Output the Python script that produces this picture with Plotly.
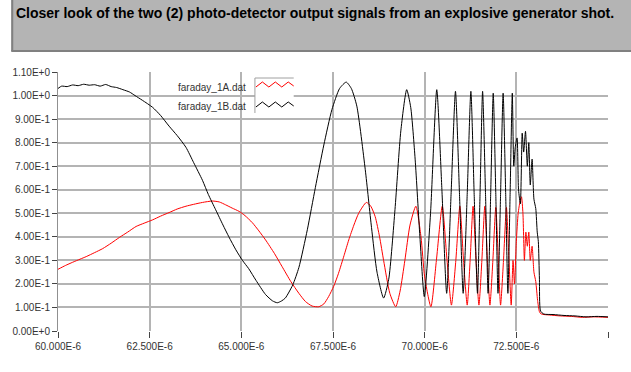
import plotly.graph_objects as go

# ---- data (time in microseconds, signal in volts-normalised) ----
t_1B = [60.00, 60.10, 60.25, 60.40, 60.55, 60.70, 60.85, 61.00, 61.15, 61.30, 61.45, 61.60,
        61.77, 61.95, 62.10, 62.30, 62.58, 62.80, 63.03, 63.25, 63.49, 63.70, 63.94, 64.10,
        64.30, 64.50, 64.66, 64.85, 65.03, 65.20, 65.40, 65.66, 65.85, 65.98, 66.10, 66.20,
        66.40, 66.57, 66.80, 67.02, 67.25, 67.47, 67.68, 67.86, 68.00, 68.15, 68.38, 68.55,
        68.70, 68.88, 69.02, 69.19, 69.35, 69.51, 69.62, 69.74, 69.87, 69.99, 70.16, 70.33,
        70.47, 70.60, 70.72, 70.84, 70.95, 71.05, 71.16, 71.26, 71.35, 71.44, 71.51, 71.58,
        71.66, 71.73, 71.80, 71.87, 71.94, 72.00, 72.07, 72.14, 72.21, 72.27, 72.33, 72.39,
        72.43, 72.47, 72.52, 72.56, 72.61, 72.66, 72.70, 72.75, 72.80, 72.84, 72.88, 72.93,
        72.98, 73.03, 73.07, 73.10, 73.13, 73.16, 73.25, 73.50, 73.80, 74.10, 74.40, 74.70, 75.00]
v_1B = [1.030, 1.040, 1.038, 1.045, 1.042, 1.048, 1.044, 1.046, 1.040, 1.047, 1.038, 1.034,
        1.025, 1.015, 1.000, 0.980, 0.950, 0.915, 0.870, 0.830, 0.780, 0.715, 0.640, 0.580,
        0.515, 0.450, 0.400, 0.345, 0.300, 0.265, 0.215, 0.155, 0.128, 0.120, 0.128, 0.140,
        0.195, 0.270, 0.430, 0.610, 0.790, 0.940, 1.030, 1.057, 1.030, 0.955, 0.685, 0.440,
        0.250, 0.140, 0.220, 0.515, 0.850, 1.025, 0.950, 0.730, 0.400, 0.146, 0.500, 1.025,
        0.600, 0.160, 0.580, 1.018, 0.580, 0.160, 0.580, 1.018, 0.580, 0.160, 0.580, 1.018,
        0.580, 0.160, 0.580, 1.010, 0.580, 0.160, 0.580, 1.010, 0.580, 0.160, 0.580, 1.010,
        0.700, 0.780, 0.820, 0.600, 0.540, 0.840, 0.760, 0.848, 0.700, 0.800, 0.620, 0.730,
        0.560, 0.520, 0.420, 0.380, 0.220, 0.085, 0.072, 0.070, 0.066, 0.064, 0.060, 0.062, 0.060]

t_1A = [60.00, 60.20, 60.40, 60.60, 60.77, 61.00, 61.22, 61.45, 61.68, 61.90, 62.13, 62.35,
        62.58, 62.80, 63.03, 63.25, 63.49, 63.70, 63.94, 64.21, 64.40, 64.57, 64.75, 64.94,
        65.10, 65.30, 65.48, 65.66, 65.90, 66.11, 66.35, 66.57, 66.75, 66.93, 67.11, 67.25,
        67.38, 67.52, 67.65, 67.80, 67.93, 68.07, 68.20, 68.41, 68.53, 68.65, 68.77, 68.88,
        69.05, 69.21, 69.33, 69.46, 69.60, 69.76, 69.90, 70.00, 70.17, 70.32, 70.48, 70.61,
        70.73, 70.85, 70.96, 71.06, 71.16, 71.24, 71.32, 71.40, 71.48, 71.56, 71.64, 71.71,
        71.78, 71.86, 71.94, 72.01, 72.07, 72.15, 72.23, 72.30, 72.36, 72.41, 72.45, 72.50,
        72.55, 72.60, 72.64, 72.68, 72.72, 72.76, 72.80, 72.84, 72.88, 72.93, 72.98, 73.03,
        73.08, 73.13, 73.18, 73.40, 73.70, 74.00, 74.30, 74.60, 75.00]
v_1A = [0.262, 0.278, 0.292, 0.305, 0.316, 0.333, 0.350, 0.373, 0.398, 0.420, 0.444, 0.458,
        0.472, 0.488, 0.503, 0.518, 0.530, 0.538, 0.546, 0.552, 0.548, 0.536, 0.522, 0.508,
        0.490, 0.460, 0.425, 0.387, 0.330, 0.274, 0.210, 0.160, 0.125, 0.106, 0.103, 0.115,
        0.146, 0.190, 0.245, 0.320, 0.387, 0.450, 0.500, 0.546, 0.530, 0.486, 0.400, 0.300,
        0.160, 0.103, 0.170, 0.300, 0.450, 0.530, 0.400, 0.230, 0.103, 0.300, 0.530, 0.300,
        0.110, 0.300, 0.530, 0.300, 0.110, 0.300, 0.530, 0.300, 0.110, 0.300, 0.530, 0.300,
        0.110, 0.300, 0.525, 0.300, 0.110, 0.300, 0.525, 0.300, 0.110, 0.300, 0.200, 0.380,
        0.500, 0.550, 0.570, 0.500, 0.300, 0.420, 0.360, 0.420, 0.300, 0.360, 0.250, 0.210,
        0.130, 0.082, 0.072, 0.068, 0.064, 0.062, 0.058, 0.060, 0.058]

x_tickvals_us = [60.0, 62.5, 65.0, 67.5, 70.0, 72.5, 75.0]
x_ticktext = ["60.000E-6", "62.500E-6", "65.000E-6", "67.500E-6", "70.000E-6", "72.500E-6", "75.000E-6"]
y_tickvals = [0.0, 0.1, 0.2, 0.3, 0.4, 0.5, 0.6, 0.7, 0.8, 0.9, 1.0, 1.1]
y_ticktext = ["0.00E+0", "1.00E-1", "2.00E-1", "3.00E-1", "4.00E-1", "5.00E-1", "6.00E-1",
              "7.00E-1", "8.00E-1", "9.00E-1", "1.00E+0", "1.10E+0"]
series_names = ["faraday_1A.dat", "faraday_1B.dat"]
title_text = "Closer look of the two (2) photo-detector output signals from an explosive generator shot."

W, H = 631, 372
L, R, T, B = 55, 23, 72, 41
PW, PH = W - L - R, H - T - B


def px(x):
    return (x - L) / PW


def py(y):
    return (H - B - y) / PH


fig = go.Figure()
fig.add_trace(go.Scatter(x=[t * 1e-6 for t in t_1A], y=v_1A, mode="lines", name=series_names[0],
                         line=dict(color="#ff0000", width=1, shape="spline", smoothing=0.6)))
fig.add_trace(go.Scatter(x=[t * 1e-6 for t in t_1B], y=v_1B, mode="lines", name=series_names[1],
                         line=dict(color="#000000", width=1, shape="spline", smoothing=0.6)))

shapes = []
# title panel
shapes.append(dict(type="rect", xref="paper", yref="paper", x0=px(8), x1=px(640), y0=py(51), y1=py(-5),
                   fillcolor="#b4b4b4", line=dict(width=0), layer="above"))
shapes.append(dict(type="line", xref="paper", yref="paper", x0=px(9), x1=px(9), y0=py(51), y1=py(0),
                   line=dict(color="#808080", width=2), layer="above"))
shapes.append(dict(type="line", xref="paper", yref="paper", x0=px(8), x1=px(640), y0=py(51), y1=py(51),
                   line=dict(color="#808080", width=2), layer="above"))
# legend box
shapes.append(dict(type="rect", xref="paper", yref="paper", x0=px(253), x1=px(292), y0=py(113), y1=py(78),
                   fillcolor="white", line=dict(width=0), layer="above"))
shapes.append(dict(type="line", xref="paper", yref="paper", x0=px(253), x1=px(292), y0=py(78), y1=py(78),
                   line=dict(color="#a0a0a0", width=1), layer="above"))
shapes.append(dict(type="line", xref="paper", yref="paper", x0=px(253), x1=px(253), y0=py(113), y1=py(78),
                   line=dict(color="#a0a0a0", width=1), layer="above"))


def zigzag(y0, color):
    xs = [254, 260.5, 267, 273.5, 280, 286.5, 292]
    ys = [y0 + 5, y0, y0 + 5, y0, y0 + 5, y0, y0 + 4]
    path = "M " + " L ".join(f"{px(a):.5f},{py(b):.5f}" for a, b in zip(xs, ys))
    return dict(type="path", xref="paper", yref="paper", path=path,
                line=dict(color=color, width=1), layer="above")


shapes.append(zigzag(82, "#ff0000"))
shapes.append(zigzag(102, "#000000"))

annotations = [
    dict(text="<b>" + title_text + "</b>", xref="paper", yref="paper", x=px(11), y=py(13),
         xanchor="left", yanchor="middle", showarrow=False,
         font=dict(family="Liberation Sans", size=14, color="black")),
    dict(text=series_names[0], xref="paper", yref="paper", x=px(174), y=py(87),
         xanchor="left", yanchor="middle", showarrow=False,
         font=dict(family="Liberation Sans", size=10, color="#333")),
    dict(text=series_names[1], xref="paper", yref="paper", x=px(174), y=py(107),
         xanchor="left", yanchor="middle", showarrow=False,
         font=dict(family="Liberation Sans", size=10, color="#333")),
]

fig.update_layout(
    width=W, height=H, margin=dict(l=L, r=R, t=T, b=B),
    paper_bgcolor="white", plot_bgcolor="white", showlegend=False,
    shapes=shapes, annotations=annotations,
    font=dict(family="Liberation Sans", size=10, color="#333"),
    xaxis=dict(range=[60e-6, 75e-6], tickvals=[v * 1e-6 for v in x_tickvals_us], ticktext=x_ticktext,
               showgrid=True, gridcolor="#b4b4b4", gridwidth=1.5, zeroline=False, showline=False,
               ticks="outside", ticklen=6, tickcolor="#444", tickfont=dict(size=10, color="#333")),
    yaxis=dict(range=[0, 1.1], tickvals=y_tickvals, ticktext=y_ticktext,
               showgrid=True, gridcolor="#b4b4b4", gridwidth=1.5, zeroline=False,
               showline=True, linecolor="#909090", linewidth=1,
               ticks="outside", ticklen=5, tickcolor="#444", tickfont=dict(size=10, color="#333")),
)

fig.write_html("out.html", config={"displayModeBar": False},
               post_script="document.body.style.margin='0';document.body.style.overflow='hidden';")
